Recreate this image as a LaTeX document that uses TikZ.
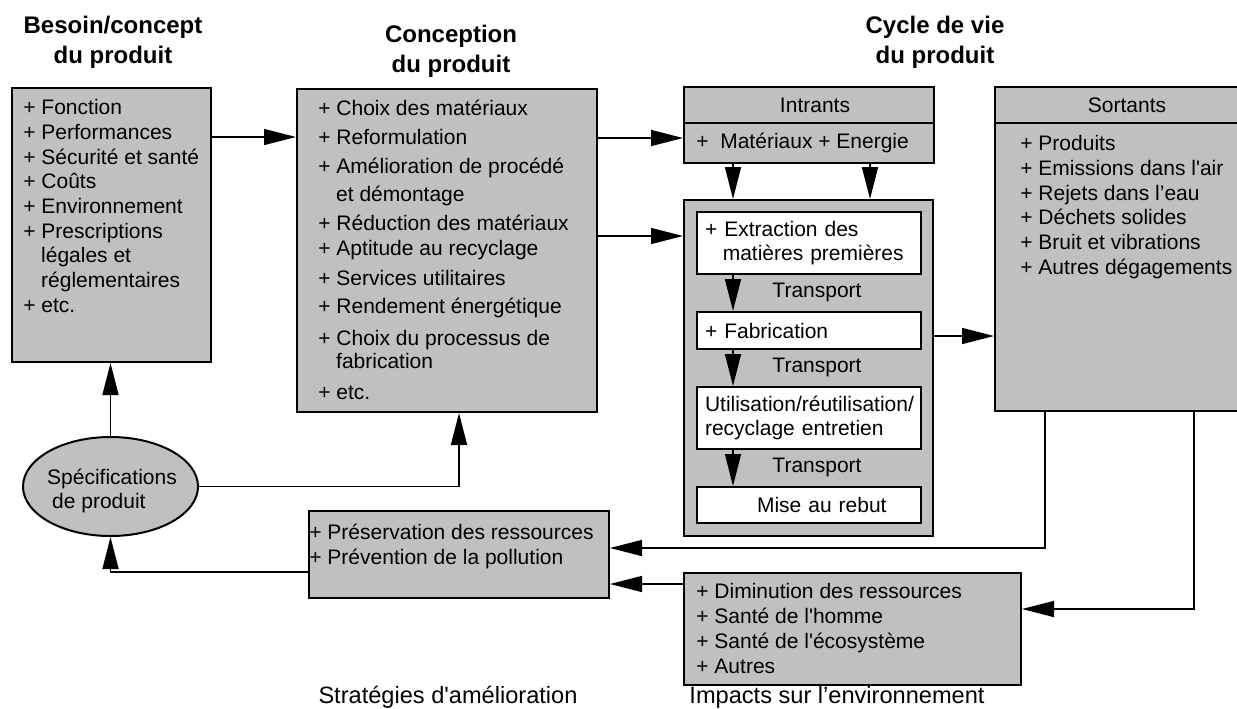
\documentclass[tikz,border=0pt]{standalone}
\usepackage{fontspec}
\setmainfont{Liberation Sans}[Ligatures=TeXOff]
\definecolor{PanelGray}{HTML}{C0C0C0}
\definecolor{LineBlack}{HTML}{000000}
\definecolor{StageWhite}{HTML}{FFFFFF}
\usetikzlibrary{shapes.geometric,arrows.meta,positioning,fit}
\tikzset{
    % grey boxes
    panel/.style={
        rectangle,
        draw=LineBlack,
        line width=1pt,
        fill=PanelGray,
        inner sep=0pt
    },
    stage/.style={
        rectangle,
        draw=LineBlack,
        line width=1pt,
        fill=StageWhite,
        minimum width=112pt,
        text width=104pt,
        inner xsep=4pt,
        inner ysep=0pt,
        align=left,
        font=\fontsize{10.5}{12}\selectfont
    },
    heading/.style={
        font=\bfseries\fontsize{12}{15}\selectfont,
        align=center,
        inner sep=0pt,
        anchor=north
    },
    item list/.style={
        font=\fontsize{10.5}{12.35}\selectfont,
        align=left,
        inner sep=0pt,
        anchor=north west
    },
    plain/.style={
        font=\fontsize{10.5}{12}\selectfont,
        inner sep=0pt
    },
    caption/.style={
        font=\fontsize{11.8}{14}\selectfont,
        inner sep=0pt,
        anchor=base
    },
    arrow/.style={
        -{Triangle[length=16pt,width=8pt]},
        line width=0.75pt,
        color=LineBlack
    }
}
\begin{document}
\begin{tikzpicture}[x=0.5pt, y=-0.5pt, node distance=18pt]
    \useasboundingbox (0,0) rectangle (1237,708);

    % column headings
    \node[heading] (needTitle) at (113,16) {Besoin/concept\\du produit};
    \node[heading] (designTitle) at (451,25) {Conception\\du produit};
    \node[heading] (lifeTitle) at (935,16) {Cycle de vie\\du produit};

    % product need
    \node[panel, fit={(12,88) (211,362)}] (need) {};
    \node[item list] (needList) at (23,99) {+ Fonction\\+ Performances\\+ Sécurité et santé\\+ Coûts\\+ Environnement\\+ Prescriptions\\\hspace*{8.9pt}légales et\\\hspace*{8.9pt}réglementaires\\+ etc.};

    % product design
    \node[panel, fit={(297,89) (597,412)}] (design) {};
    \node[item list, font=\fontsize{10.5}{14.3}\selectfont] (designList) at (318,100) {+ Choix des matériaux\\+ Reformulation\\+ Amélioration de procédé\\\hspace*{8.9pt}et démontage\\+ Réduction des matériaux\\[-1.8pt]+ Aptitude au recyclage\\[0.7pt]+ Services utilitaires\\+ Rendement énergétique\\[1.7pt]+ Choix du processus de\\[-2.8pt]\hspace*{8.9pt}fabrication\\[1.2pt]+ etc.};

    % inputs
    \node[panel, fit={(684,87) (934,163)}] (inputs) {};
    \draw[line width=1pt] (inputs.west |- 0,123) -- (inputs.east |- 0,123);
    \node[plain] (inputsHead) at (815,105) {Intrants};
    \node[plain, anchor=west] (inputsBody) at (696,143) {+\ \ Matériaux + Energie};

    % life cycle
    \node[panel, fit={(684,200) (933,536)}] (cycle) {};
    \node[stage, minimum height=31pt] (extract) at (809,243) {+ Extraction des\\\hspace*{8.9pt}matières premières};
    \node[stage, minimum height=18.5pt, below=of extract] (make) {+ Fabrication};
    \node[stage, minimum height=31pt, below=of make] (use) {Utilisation/réutilisation/\\recyclage entretien};
    \node[stage, minimum height=18pt, below=of use] (dispose) {\hspace*{26pt}Mise au rebut};
    \node[plain] (ship1) at (817,292) {Transport};
    \node[plain] (ship2) at (817,367) {Transport};
    \node[plain] (ship3) at (817,467) {Transport};

    % outputs
    \node[panel, fit={(995,87) (1239,411)}] (outputs) {};
    \draw[line width=1pt] (outputs.west |- 0,123) -- (outputs.east |- 0,123);
    \node[plain] (outputsHead) at (1127,105) {Sortants};
    \node[item list] (outputsList) at (1020,135) {+ Produits\\+ Emissions dans l'air\\+ Rejets dans l’eau\\+ Déchets solides\\+ Bruit et vibrations\\+ Autres dégagements};

    % specification
    \node[ellipse, draw=LineBlack, line width=1pt, fill=PanelGray, minimum width=87.5pt, minimum height=49.5pt, inner sep=0pt] (spec) at (110.5,486.5) {};
    \node[plain, align=left] (specText) at (112,491) {Spécifications\\\hspace*{2.5pt}de produit};

    % improvement strategies
    \node[panel, fit={(309,511) (609,598)}] (keep) {};
    \node[item list] (keepList) at (309,524) {+ Préservation des ressources\\+ Prévention de la pollution};
    \node[caption] (keepCap) at (448,703) {Stratégies d'amélioration};

    % environmental impacts
    \node[panel, fit={(684,573) (1021,685)}] (impacts) {};
    \node[item list, font=\fontsize{10.5}{12.4}\selectfont] (impactsList) at (696,583) {+ Diminution des ressources\\+ Santé de l'homme\\+ Santé de l'écosystème\\+ Autres};
    \node[caption] (impactsCap) at (837,703) {Impacts sur l’environnement};

    % connectors
    \draw[arrow] (need.east |- 0,137) -- (design.west |- 0,137);
    \draw[arrow] (design.east |- 0,138) -- (inputs.west |- 0,138);
    \draw[arrow] (design.east |- 0,236) -- (cycle.west |- 0,236);
    \draw[arrow] (inputs.south -| 733,0) -- (cycle.north -| 733,0);
    \draw[arrow] (inputs.south -| 870,0) -- (cycle.north -| 870,0);
    \draw[arrow] (extract.south -| 733,0) -- (make.north -| 733,0);
    \draw[arrow] (make.south -| 733,0) -- (use.north -| 733,0);
    \draw[arrow] (use.south -| 733,0) -- (dispose.north -| 733,0);
    \draw[arrow] (cycle.east |- 0,336) -- (outputs.west |- 0,336);
    \draw[arrow] (outputs.south -| 1045,0) |- (keep.east |- 0,548);
    \draw[arrow] (outputs.south -| 1194,0) |- (impacts.east |- 0,609);
    \draw[arrow] (impacts.west |- 0,584) -- (keep.east |- 0,584);
    \draw[arrow] (keep.west |- 0,572) -| (spec.south);
    \draw[arrow] (spec.north) -- (spec.north |- need.south);
    \draw[arrow] (spec.east) -| (design.south -| 459,0);
\end{tikzpicture}
\end{document}
